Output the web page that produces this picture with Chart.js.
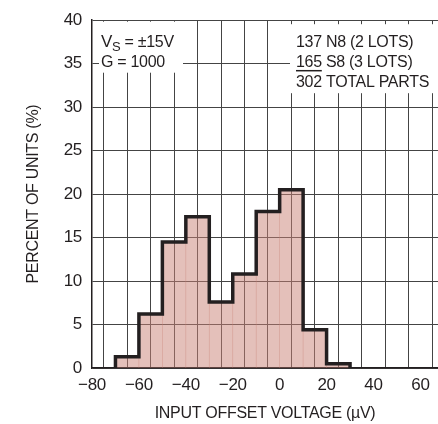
<!DOCTYPE html>
<html>
<head>
    <title>Input Offset Voltage Distribution</title>
    <style>
        body {
            margin: 0;
            background: #fff;
        }

        #chartContainer {
            width: 438px;
            height: 424px;
        }
    </style>
</head>
<body>
    <div id="chartContainer">
        <canvas id="histChart"></canvas>
    </div>

    <script src="https://cdn.jsdelivr.net/npm/chart.js"></script>
    <script>
        // histogram bins (uV), 10 uV wide
        var binStarts = [-70, -60, -50, -40, -30, -20, -10, 0, 10, 20];
        var binWidth = 10;
        var percentUnits = [1.3, 6.2, 14.5, 17.4, 7.6, 10.8, 18.0, 20.5, 4.4, 0.5];

        var xGridValues = [-80, -70, -60, -50, -40, -30, -20, -10, 0, 10, 20, 30, 40, 50, 60];
        var xLabelValues = [-80, -60, -40, -20, 0, 20, 40, 60];
        var yTickValues = [0, 5, 10, 15, 20, 25, 30, 35, 40];

        var condsNote = ['V', 'S', ' = \u00b115V', 'G = 1000'];
        var partsNote = ['137 N8 (2 LOTS)', '165', ' S8 (3 LOTS)', '302 TOTAL PARTS'];

        var FONT = "'Liberation Sans Narrow', 'Arial Narrow', 'Liberation Sans', Arial, sans-serif";
        var INK = '#231f20';

        Chart.defaults.font.family = FONT;
        Chart.defaults.color = INK;

        var barData = binStarts.map(function (s, i) {
            return { x: s + binWidth / 2, y: percentUnits[i] };
        });

        // outline of the histogram as a stepped line
        var outline = [{ x: binStarts[0], y: 0 }];
        binStarts.forEach(function (s, i) {
            outline.push({ x: s, y: percentUnits[i] });
        });
        outline.push({ x: binStarts[binStarts.length - 1] + binWidth, y: 0 });

        // squeeze the text a little, the original uses a condensed face
        var tightText = {
            id: 'tightText',
            beforeUpdate: function (chart) { chart.ctx.letterSpacing = '-0.3px'; },
            beforeDraw: function (chart) { chart.ctx.letterSpacing = '-0.3px'; }
        };

        var notesPlugin = {
            id: 'notes',
            afterDraw: function (chart) {
                var ctx = chart.ctx;
                var a = chart.chartArea;
                ctx.save();

                // white boxes behind the notes
                ctx.fillStyle = '#fff';
                ctx.fillRect(a.left + 7, a.top + 1.5, 84, 51);
                ctx.fillRect(a.left + 198, a.top + 4, a.right - a.left - 198, 69);

                ctx.fillStyle = INK;
                ctx.textBaseline = 'alphabetic';
                ctx.textAlign = 'left';

                // V_S = +-15V / G = 1000
                var x = a.left + 9;
                ctx.font = '17px ' + FONT;
                ctx.fillText(condsNote[0], x, a.top + 27);
                x += ctx.measureText(condsNote[0]).width;
                ctx.font = '13px ' + FONT;
                ctx.fillText(condsNote[1], x, a.top + 31);
                x += ctx.measureText(condsNote[1]).width;
                ctx.font = '16px ' + FONT;
                ctx.fillText(condsNote[2], x, a.top + 27);
                ctx.fillText(condsNote[3], a.left + 9, a.top + 47);

                // part counts
                var px = a.left + 204;
                ctx.fillText(partsNote[0], px, a.top + 27);
                ctx.fillText(partsNote[1], px, a.top + 47);
                var w = ctx.measureText(partsNote[1]).width;
                ctx.fillText(partsNote[2], px + w, a.top + 47);
                ctx.fillText(partsNote[3], px, a.top + 67);

                ctx.strokeStyle = INK;
                ctx.lineWidth = 1.5;
                ctx.beginPath();
                ctx.moveTo(px, a.top + 50.5);
                ctx.lineTo(px + w, a.top + 50.5);
                ctx.stroke();

                ctx.restore();
            }
        };

        var ctx = document.getElementById('histChart').getContext('2d');
        var histChart = new Chart(ctx, {
            data: {
                datasets: [{
                    type: 'line',
                    data: outline,
                    stepped: 'before',
                    borderColor: INK,
                    borderWidth: 3.5,
                    pointRadius: 0,
                    fill: false,
                    order: 0
                }, {
                    type: 'bar',
                    data: barData,
                    backgroundColor: 'rgba(201, 129, 117, 0.5)',
                    borderWidth: 0,
                    barPercentage: 1,
                    categoryPercentage: 1,
                    order: 1
                }]
            },
            options: {
                responsive: true,
                maintainAspectRatio: false,
                animation: false,
                layout: {
                    padding: { top: 16, left: 0, right: 0, bottom: 0 }
                },
                plugins: {
                    legend: { display: false },
                    tooltip: { enabled: false }
                },
                scales: {
                    x: {
                        type: 'linear',
                        min: -80,
                        max: 67.5,
                        offset: false,
                        afterBuildTicks: function (s) {
                            s.ticks = xGridValues.map(function (v) { return { value: v }; });
                        },
                        ticks: {
                            autoSkip: false,
                            maxRotation: 0,
                            padding: 7,
                            font: { size: 17 },
                            callback: function (v) {
                                if (xLabelValues.indexOf(v) < 0) return '';
                                return String(v).replace('-', '\u2212');
                            }
                        },
                        grid: { color: '#444', lineWidth: 1, drawTicks: false },
                        border: { color: INK, width: 1.5 },
                        title: {
                            display: true,
                            text: 'INPUT OFFSET VOLTAGE (\u00b5V)',
                            font: { size: 16 },
                            padding: { top: 0, bottom: 1 }
                        },
                        afterFit: function (s) { s.height = 56; }
                    },
                    y: {
                        min: 0,
                        max: 40,
                        afterBuildTicks: function (s) {
                            s.ticks = yTickValues.map(function (v) { return { value: v }; });
                        },
                        ticks: {
                            padding: 10,
                            font: { size: 17 }
                        },
                        grid: { color: '#444', lineWidth: 1, drawTicks: false },
                        border: { color: INK, width: 1.5 },
                        title: {
                            display: true,
                            text: 'PERCENT OF UNITS (%)',
                            font: { size: 16 },
                            padding: { top: 24, bottom: 0 }
                        },
                        afterFit: function (s) { s.width = 92; }
                    }
                }
            },
            plugins: [tightText, notesPlugin]
        });
    </script>
</body>
</html>
